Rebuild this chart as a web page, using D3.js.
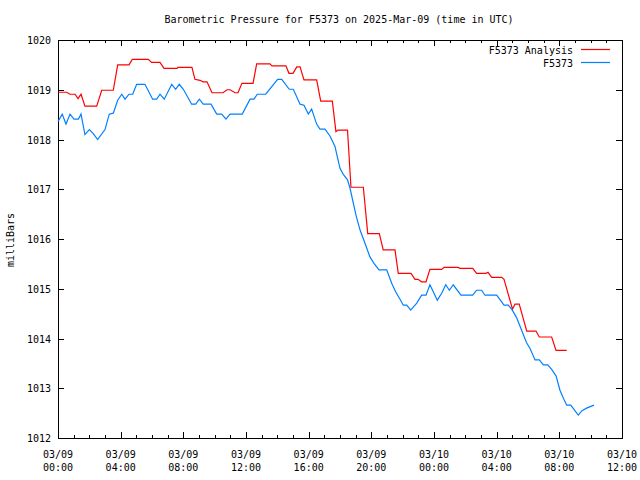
<!DOCTYPE html>
<html><head><meta charset="utf-8">
<script src="https://cdn.jsdelivr.net/npm/d3@7"></script>
<style>body{margin:0;background:#fff}svg{display:block}text{font-family:"DejaVu Sans Mono",monospace;font-size:10px;fill:#000}</style>
</head><body><svg id="c" width="640" height="480"></svg>
<script>
// hours since 2025-03-09 00:00 UTC
const analysisHours = [0,0.55,0.77,1.09,1.28,1.47,1.72,2.47,2.79,3.53,3.81,4.53,4.74,5.76,5.98,6.51,6.77,7.6,7.66,8.55,8.74,9.06,9.26,9.51,9.83,10.53,10.79,10.98,11.3,11.49,11.74,12.45,12.68,13.53,13.66,14.55,14.74,15.0,15.24,15.45,15.7,16.51,16.77,17.51,17.74,17.87,18.48,18.7,19.49,19.77,20.51,20.76,21.51,21.72,22.53,22.79,22.98,23.21,23.49,23.74,24.49,24.64,25.53,25.66,26.47,26.72,27.32,27.45,27.68,28.32,28.47,29.01,29.17,29.44,29.92,30.51,30.72,31.51,31.79,32.47];
const analysisValues = [1018.95,1018.95,1018.91,1018.91,1018.82,1018.91,1018.67,1018.67,1018.99,1018.99,1019.5,1019.5,1019.61,1019.61,1019.55,1019.55,1019.43,1019.43,1019.45,1019.45,1019.21,1019.19,1019.16,1019.16,1018.94,1018.94,1019.0,1019.0,1018.94,1018.94,1019.13,1019.13,1019.52,1019.52,1019.48,1019.48,1019.33,1019.33,1019.46,1019.46,1019.2,1019.2,1018.77,1018.77,1018.16,1018.19,1018.19,1017.04,1017.04,1016.11,1016.11,1015.78,1015.78,1015.31,1015.31,1015.19,1015.19,1015.14,1015.14,1015.39,1015.39,1015.43,1015.43,1015.41,1015.41,1015.31,1015.31,1015.33,1015.23,1015.23,1015.19,1014.59,1014.69,1014.69,1014.15,1014.15,1014.03,1014.03,1013.76,1013.76];
const obsHours = [0,0.27,0.51,0.77,1.02,1.3,1.47,1.72,2.0,2.25,2.53,3.0,3.27,3.53,3.81,4.07,4.28,4.53,4.77,5.02,5.55,6.04,6.3,6.51,6.78,7.26,7.51,7.74,8.0,8.53,8.79,9.02,9.27,9.77,10.13,10.45,10.72,10.98,11.76,12.26,12.51,12.72,13.26,14.02,14.28,14.76,15.02,15.45,15.7,15.98,16.19,16.51,16.72,17.04,17.36,17.68,17.83,18.0,18.21,18.48,18.64,18.85,19.02,19.28,19.6,19.91,20.17,20.49,20.98,21.3,21.55,21.83,22.04,22.26,22.51,22.9,23.21,23.49,23.74,24.21,24.49,24.75,24.98,25.23,25.72,26.47,26.72,27.04,27.25,28.0,28.47,28.74,28.98,29.27,29.55,29.9,30.13,30.45,30.72,30.98,31.26,31.51,31.79,32.04,32.26,32.47,32.73,33.21,33.45,33.74,34.21];
const obsValues = [1018.36,1018.51,1018.31,1018.51,1018.41,1018.41,1018.51,1018.1,1018.2,1018.12,1018.0,1018.2,1018.51,1018.53,1018.79,1018.91,1018.81,1018.91,1018.91,1019.11,1019.11,1018.81,1018.81,1018.91,1018.81,1019.11,1019.01,1019.11,1019.01,1018.71,1018.71,1018.81,1018.71,1018.71,1018.51,1018.51,1018.41,1018.51,1018.51,1018.81,1018.81,1018.91,1018.91,1019.21,1019.21,1019.01,1019.01,1018.71,1018.69,1018.51,1018.61,1018.31,1018.21,1018.21,1018.07,1017.86,1017.65,1017.42,1017.3,1017.19,1017.02,1016.72,1016.48,1016.18,1015.91,1015.64,1015.51,1015.38,1015.38,1015.11,1014.94,1014.79,1014.67,1014.67,1014.57,1014.71,1014.87,1014.87,1015.08,1014.77,1014.91,1015.08,1014.97,1015.08,1014.87,1014.87,1014.97,1014.97,1014.87,1014.87,1014.67,1014.67,1014.58,1014.42,1014.2,1013.92,1013.8,1013.57,1013.57,1013.47,1013.47,1013.38,1013.25,1012.96,1012.8,1012.66,1012.66,1012.46,1012.55,1012.6,1012.66];
const yTicks = [1012,1013,1014,1015,1016,1017,1018,1019,1020];
const xTickLabels = [["03/09","00:00"],["03/09","04:00"],["03/09","08:00"],["03/09","12:00"],["03/09","16:00"],["03/09","20:00"],["03/10","00:00"],["03/10","04:00"],["03/10","08:00"],["03/10","12:00"]];
const title = "Barometric Pressure for F5373 on 2025-Mar-09 (time in UTC)";
const seriesNames = ["F5373 Analysis","F5373"];
const seriesColors = ["#ff0000","#0080ff"];

const t0 = Date.UTC(2025,2,9,0,0);
const toDate = h => new Date(t0 + h*3600000);
const L=58,R=622,T=40,B=438;
const svg = d3.select("#c");
const x = d3.scaleUtc().domain([toDate(0),toDate(36)]).range([L,R]);
const y = d3.scaleLinear().domain([1012,1020]).range([B,T]);

// ticks
const g = svg.append("g").attr("stroke","#000").attr("stroke-width",1).attr("shape-rendering","crispEdges");
const hours = d3.range(0,37,1);
hours.forEach(h=>{
  const len = h%4===0?6:3;
  const px = Math.round(x(toDate(h)))+0.5;
  g.append("line").attr("x1",px).attr("x2",px).attr("y1",B).attr("y2",B-len);
  g.append("line").attr("x1",px).attr("x2",px).attr("y1",T).attr("y2",T+len);
});
yTicks.forEach(v=>{
  const py = Math.round(y(v))+0.5;
  g.append("line").attr("x1",L).attr("x2",L+6).attr("y1",py).attr("y2",py);
  g.append("line").attr("x1",R).attr("x2",R-6).attr("y1",py).attr("y2",py);
});
g.append("rect").attr("x",L+0.5).attr("y",T+0.5).attr("width",R-L).attr("height",B-T).attr("fill","none");

// labels
yTicks.forEach(v=>{
  svg.append("text").attr("x",L-7).attr("y",y(v)+4).attr("text-anchor","end").text(v);
});
xTickLabels.forEach((lab,i)=>{
  const px = x(toDate(i*4));
  svg.append("text").attr("x",px).attr("y",458).attr("text-anchor","middle").text(lab[0]);
  svg.append("text").attr("x",px).attr("y",471).attr("text-anchor","middle").text(lab[1]);
});
svg.append("text").attr("x",339).attr("y",23).attr("text-anchor","middle").text(title);
svg.append("text").attr("transform","translate(14,240) rotate(-90)").attr("text-anchor","middle").text("milliBars");

// lines
const line = d3.line().x(d=>x(toDate(d[0]))).y(d=>y(d[1]));
const series = [d3.zip(analysisHours,analysisValues), d3.zip(obsHours,obsValues)];
series.forEach((s,i)=>{
  svg.append("path").datum(s).attr("d",line).attr("fill","none").attr("stroke",seriesColors[i]).attr("stroke-width",1.2);
});

// legend
seriesNames.forEach((n,i)=>{
  const ly = 49.5 + i*13;
  svg.append("text").attr("x",573).attr("y",ly+4).attr("text-anchor","end").text(n);
  svg.append("line").attr("x1",581).attr("x2",610).attr("y1",ly).attr("y2",ly).attr("stroke",seriesColors[i]).attr("stroke-width",1.2);
});
</script></body></html>
